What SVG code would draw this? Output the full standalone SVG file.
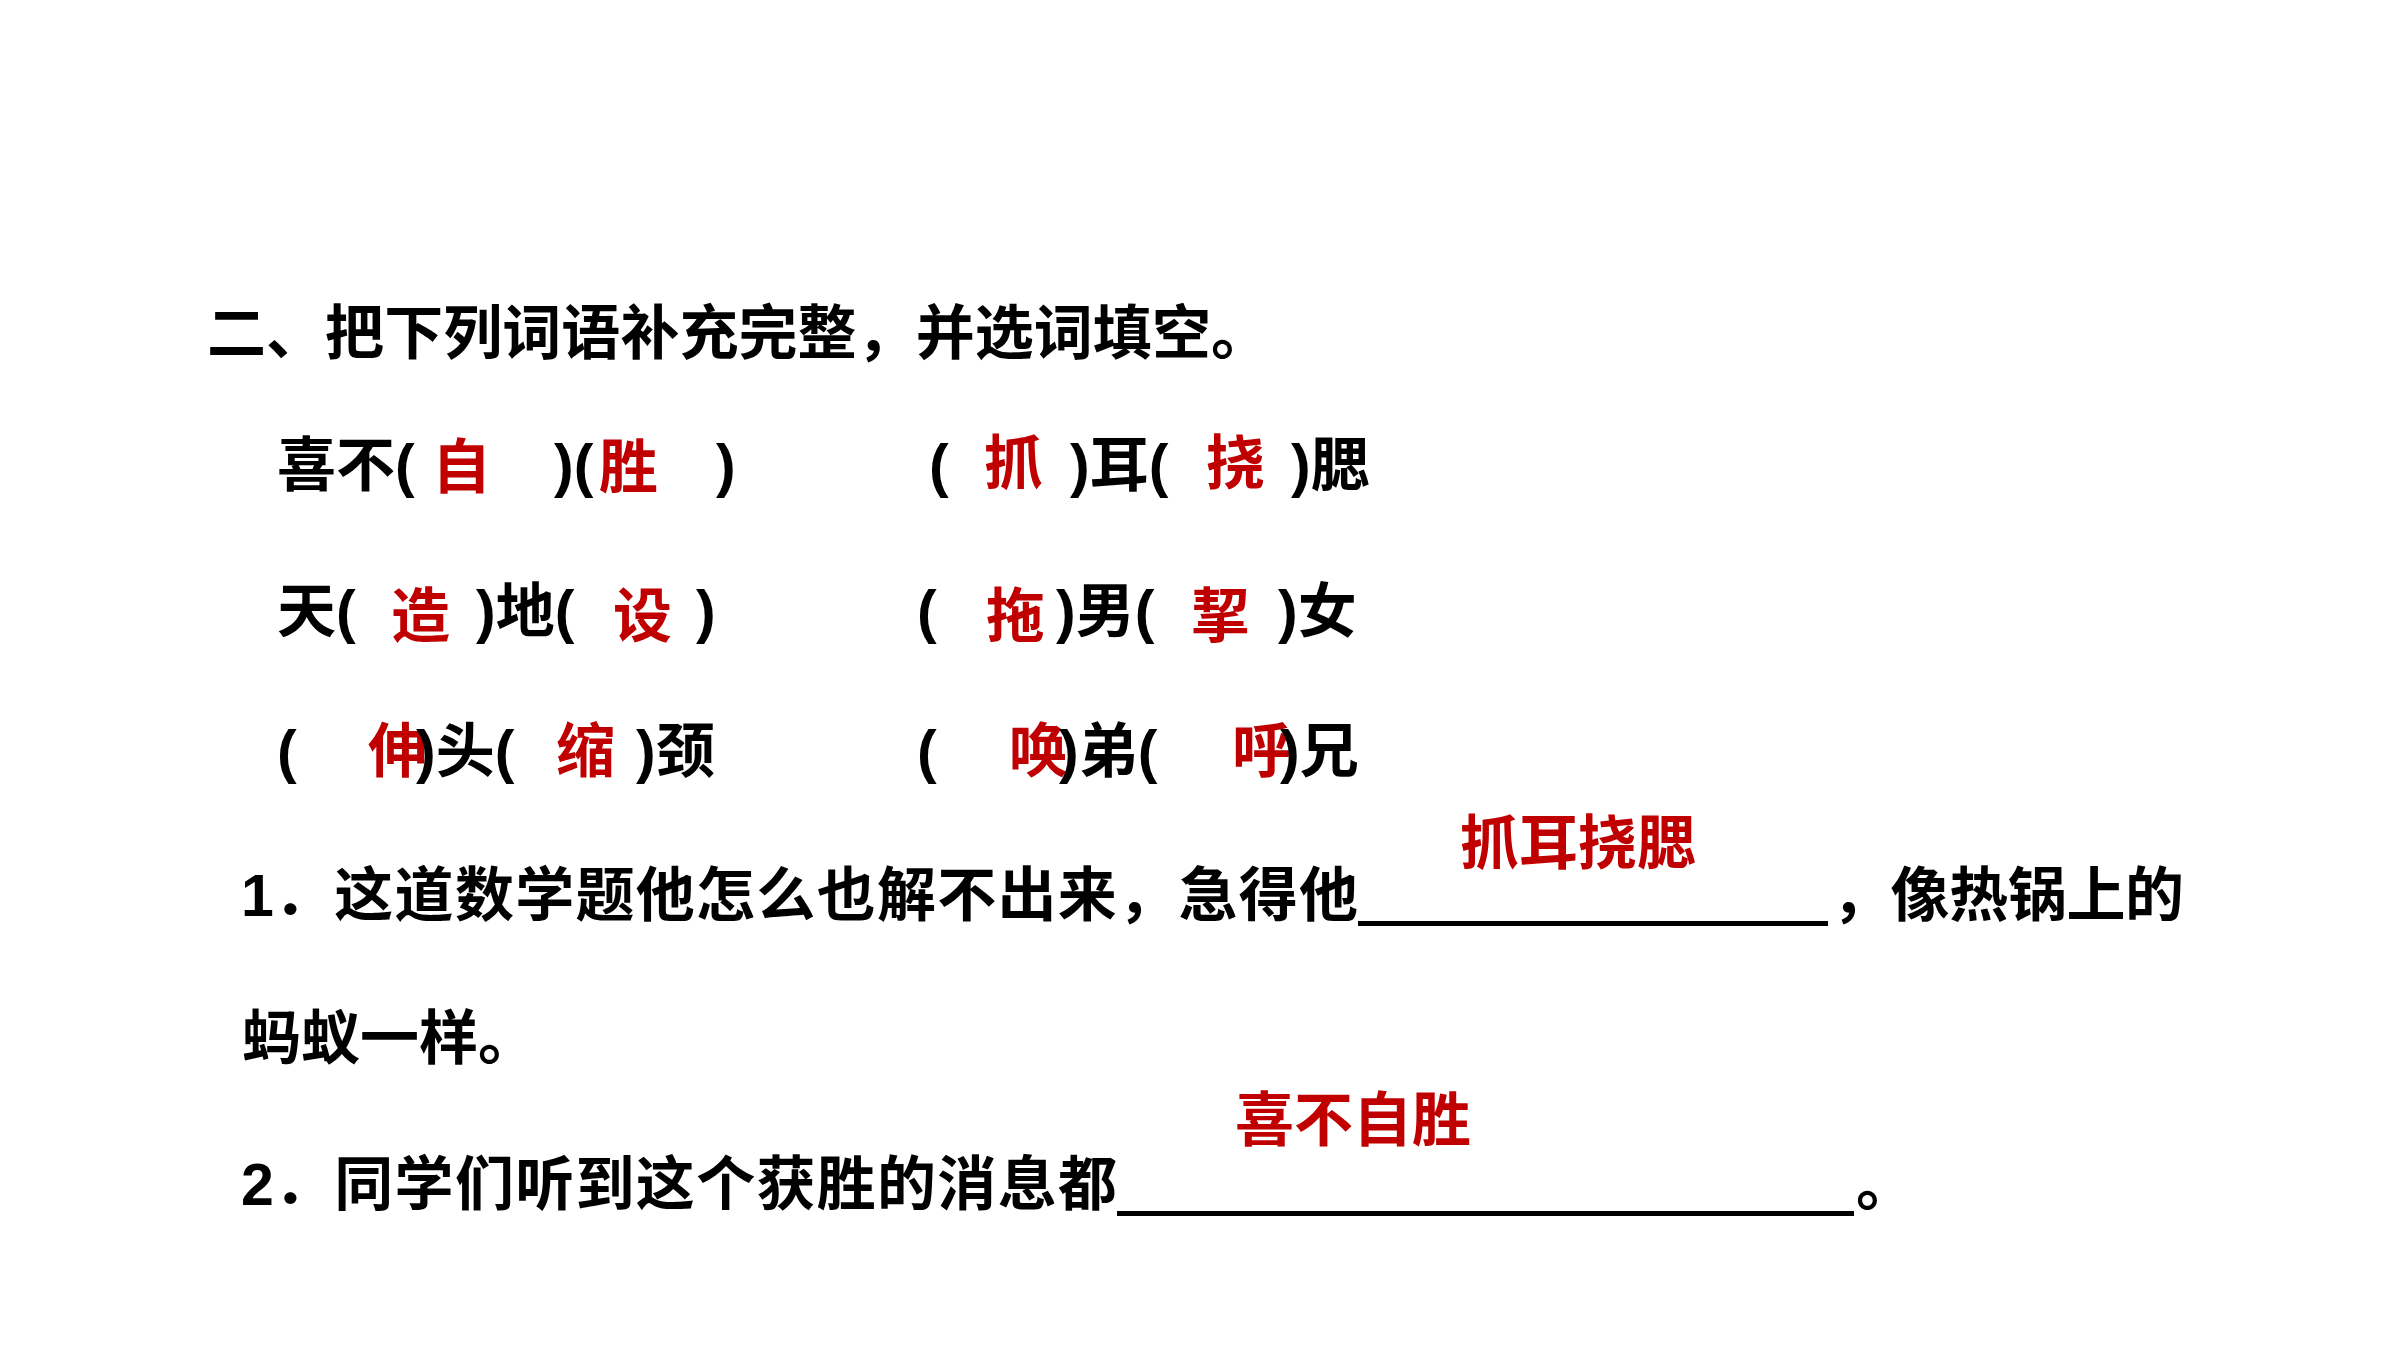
<svg xmlns="http://www.w3.org/2000/svg" width="2400" height="1350" viewBox="0 0 2400 1350">
<style>
text{font-family:"Liberation Sans","Noto Sans CJK SC",sans-serif;font-size:59px;font-weight:bold}
.k{fill:#000}
.r{fill:#C00000}
.u{fill:#000}
</style>
<rect width="2400" height="1350" fill="#fff"/>
<g transform="translate(-4,-4)">
<g id="title"><text class="k" x="211" y="358" textLength="1063">二、把下列词语补充完整，并选词填空。</text></g>
<g id="row1">
<text class="k" x="281" y="490">喜不(</text>
<text class="r" x="436" y="492">自</text>
<text class="k" x="558" y="490">)(</text>
<text class="r" x="603" y="492">胜</text>
<text class="k" x="720" y="490">)</text>
<text class="k" x="933" y="490">(</text>
<text class="r" x="988" y="488">抓</text>
<text class="k" x="1074" y="490">)耳(</text>
<text class="r" x="1210" y="488">挠</text>
<text class="k" x="1295" y="490">)腮</text>
</g>
<g id="row2">
<text class="k" x="281" y="636">天(</text>
<text class="r" x="395" y="641">造</text>
<text class="k" x="480" y="636">)地(</text>
<text class="r" x="617" y="641">设</text>
<text class="k" x="700" y="636">)</text>
<text class="k" x="921" y="636">(</text>
<text class="r" x="990" y="641">拖</text>
<text class="k" x="1060" y="636">)男(</text>
<text class="r" x="1195" y="641">挈</text>
<text class="k" x="1282" y="636">)女</text>
</g>
<g id="row3">
<text class="k" x="281" y="776">(</text>
<text class="r" x="372" y="776">伸</text>
<text class="k" x="420" y="776">)头(</text>
<text class="r" x="560" y="776">缩</text>
<text class="k" x="640" y="776">)颈</text>
<text class="k" x="921" y="776">(</text>
<text class="r" x="1013" y="776">唤</text>
<text class="k" x="1063" y="776">)弟(</text>
<text class="r" x="1236" y="776">呼</text>
<text class="k" x="1284" y="776">)兄</text>
</g>
<g id="q1">
<text class="r" x="1464" y="868">抓耳挠腮</text>
<text class="k" x="245" y="920">1</text>
<text class="k" x="278" y="920" textLength="1084">．这道数学题他怎么也解不出来，急得他</text>
<rect class="u" x="1362" y="925" width="470" height="5"/>
<text class="k" x="1836" y="920" textLength="352">，像热锅上的</text>
<text class="k" x="246" y="1063">蚂蚁一样。</text>
</g>
<g id="q2">
<text class="r" x="1239" y="1145">喜不自胜</text>
<text class="k" x="245" y="1209">2</text>
<text class="k" x="278" y="1209" textLength="843">．同学们听到这个获胜的消息都</text>
<rect class="u" x="1121" y="1215" width="737" height="5"/>
<text class="k" x="1860" y="1209">。</text>
</g>
</g>
</svg>
